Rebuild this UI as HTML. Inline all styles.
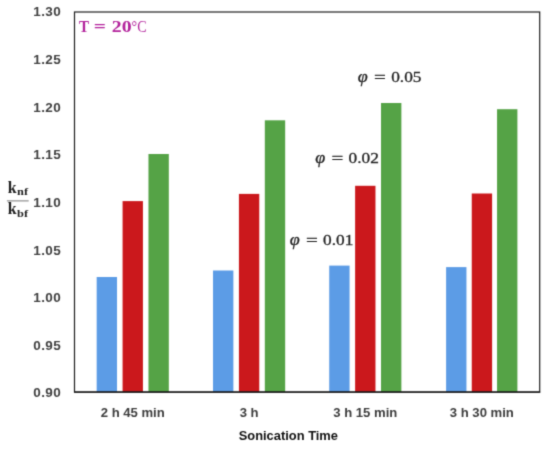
<!DOCTYPE html>
<html><head><meta charset="utf-8"><title>Sonication Time chart</title>
<style>html,body{margin:0;padding:0;background:#fff;overflow:hidden}svg{display:block}.yl{font-family:"Liberation Sans",sans-serif;font-weight:bold;font-size:13.5px;fill:#404040;text-anchor:end;letter-spacing:0.42px}.xl{font-family:"Liberation Sans",sans-serif;font-weight:bold;font-size:13.1px;fill:#3c3c3c;text-anchor:middle}.xt{font-family:"Liberation Sans",sans-serif;font-weight:bold;font-size:13px;fill:#111}.ser{font-family:"Liberation Serif","DejaVu Serif",serif}</style></head><body>
<svg width="550" height="450" viewBox="0 0 550 450">
<defs><filter id="sf" x="0" y="0" width="100%" height="100%" filterUnits="userSpaceOnUse" color-interpolation-filters="sRGB"><feConvolveMatrix order="3" divisor="1" edgeMode="duplicate" preserveAlpha="true" kernelMatrix="0.02250 0.10500 0.02250 0.10500 0.49000 0.10500 0.02250 0.10500 0.02250"/></filter></defs>
<g filter="url(#sf)">
<rect x="-5" y="-5" width="560" height="460" fill="#ffffff"/>
<rect x="96.67" y="277.00" width="20.35" height="115.00" fill="#5c9ce6"/>
<rect x="122.58" y="201.10" width="20.35" height="190.90" fill="#cb181c"/>
<rect x="148.47" y="154.00" width="20.35" height="238.00" fill="#55a346"/>
<rect x="213.02" y="270.50" width="20.35" height="121.50" fill="#5c9ce6"/>
<rect x="238.92" y="193.90" width="20.35" height="198.10" fill="#cb181c"/>
<rect x="264.82" y="120.30" width="20.35" height="271.70" fill="#55a346"/>
<rect x="329.23" y="265.60" width="20.35" height="126.40" fill="#5c9ce6"/>
<rect x="355.12" y="185.80" width="20.35" height="206.20" fill="#cb181c"/>
<rect x="381.02" y="103.00" width="20.35" height="289.00" fill="#55a346"/>
<rect x="446.10" y="267.10" width="20.35" height="124.90" fill="#5c9ce6"/>
<rect x="471.75" y="193.50" width="20.35" height="198.50" fill="#cb181c"/>
<rect x="497.05" y="109.20" width="20.35" height="282.80" fill="#55a346"/>
<rect x="74.5" y="12.0" width="465.20000000000005" height="380.0" fill="none" stroke="#1e1e1e" stroke-width="1.2"/>
<line x1="74.0" y1="392.1" x2="540.2" y2="392.1" stroke="#141414" stroke-width="1.15"/>
<text class="yl" x="61.2" y="397.35">0.90</text>
<text class="yl" x="61.2" y="349.74">0.95</text>
<text class="yl" x="61.2" y="302.12">1.00</text>
<text class="yl" x="61.2" y="254.51">1.05</text>
<text class="yl" x="61.2" y="206.90">1.10</text>
<text class="yl" x="61.2" y="159.29">1.15</text>
<text class="yl" x="61.2" y="111.67">1.20</text>
<text class="yl" x="61.2" y="64.06">1.25</text>
<text class="yl" x="61.2" y="16.45">1.30</text>
<text class="xl" x="132.75" y="417.2">2 h 45 min</text>
<text class="xl" x="249.1" y="417.2">3 h</text>
<text class="xl" x="365.3" y="417.2">3 h 15 min</text>
<text class="xl" x="481.85" y="417.2">3 h 30 min</text>
<text class="xt" x="238.7" y="440.1" textLength="99.3" lengthAdjust="spacingAndGlyphs">Sonication Time</text>
<text class="ser" x="78.9" y="32.1" font-size="16.6" fill="#b3239c" textLength="10.0" lengthAdjust="spacingAndGlyphs" font-weight="bold">T</text>
<text class="ser" x="93.8" y="32.1" font-size="16.6" fill="#b3239c" textLength="12.2" lengthAdjust="spacingAndGlyphs" font-weight="bold">=</text>
<text class="ser" x="111.8" y="32.1" font-size="16.6" fill="#b3239c" textLength="19.8" lengthAdjust="spacingAndGlyphs" font-weight="bold">20</text>
<text class="ser" x="131.6" y="32.1" font-size="16.6" fill="#b3239c" textLength="15.0" lengthAdjust="spacingAndGlyphs" >°C</text>
<text class="ser" x="357.8" y="82.1" font-size="16.5" fill="#222" textLength="10.0" lengthAdjust="spacingAndGlyphs" font-style="italic" stroke="#222" stroke-width="0.3">φ</text>
<text class="ser" x="374.1" y="83.0" font-size="16" fill="#222" textLength="11.8" lengthAdjust="spacingAndGlyphs" stroke="#222" stroke-width="0.3">=</text>
<text class="ser" x="391.2" y="82.1" font-size="15.3" fill="#222" textLength="30.3" lengthAdjust="spacingAndGlyphs" stroke="#222" stroke-width="0.3">0.05</text>
<text class="ser" x="315.2" y="162.6" font-size="16.5" fill="#222" textLength="10.0" lengthAdjust="spacingAndGlyphs" font-style="italic" stroke="#222" stroke-width="0.3">φ</text>
<text class="ser" x="331.5" y="163.5" font-size="16" fill="#222" textLength="11.8" lengthAdjust="spacingAndGlyphs" stroke="#222" stroke-width="0.3">=</text>
<text class="ser" x="348.6" y="162.6" font-size="15.3" fill="#222" textLength="30.3" lengthAdjust="spacingAndGlyphs" stroke="#222" stroke-width="0.3">0.02</text>
<text class="ser" x="289.7" y="244.9" font-size="16.5" fill="#222" textLength="10.0" lengthAdjust="spacingAndGlyphs" font-style="italic" stroke="#222" stroke-width="0.3">φ</text>
<text class="ser" x="306.0" y="245.8" font-size="16" fill="#222" textLength="11.8" lengthAdjust="spacingAndGlyphs" stroke="#222" stroke-width="0.3">=</text>
<text class="ser" x="323.1" y="244.9" font-size="15.3" fill="#222" textLength="30.3" lengthAdjust="spacingAndGlyphs" stroke="#222" stroke-width="0.3">0.01</text>
<text class="ser" x="7.8" y="192.6" font-size="15.9" font-weight="bold" fill="#222">k</text>
<text class="ser" x="17.1" y="195.4" font-size="11" font-weight="bold" fill="#222" textLength="11" lengthAdjust="spacingAndGlyphs">nf</text>
<line x1="6.9" y1="200.9" x2="28.7" y2="200.9" stroke="#777" stroke-width="1"/>
<text class="ser" x="7.8" y="214.4" font-size="15.9" font-weight="bold" fill="#222">k</text>
<text class="ser" x="17.1" y="217.4" font-size="11" font-weight="bold" fill="#222" textLength="11" lengthAdjust="spacingAndGlyphs">bf</text>
</g></svg></body></html>
